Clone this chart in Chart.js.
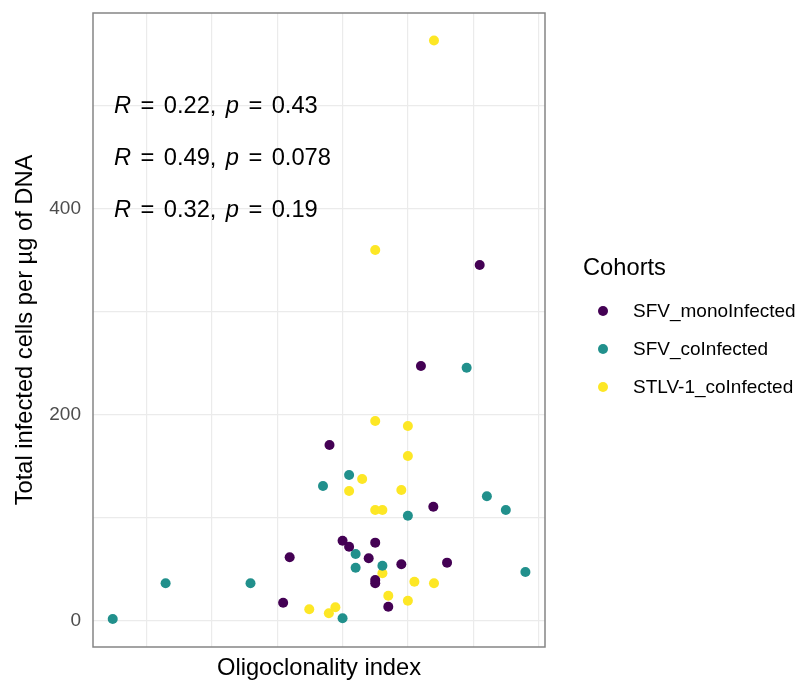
<!DOCTYPE html>
<html>
<head>
<meta charset="utf-8">
<script src="https://cdn.jsdelivr.net/npm/chart.js@4.4.1/dist/chart.umd.min.js"></script>
<style>
  html, body { margin: 0; padding: 0; background: #fff; }
</style>
</head>
<body>
<canvas id="scatter" width="808" height="684"></canvas>
<script>
// cohorts and colours (viridis, 3 levels)
var cohorts = ['SFV_monoInfected', 'SFV_coInfected', 'STLV-1_coInfected'];
var cohortColors = ['#440154', '#21908C', '#FDE725'];

// oligoclonality index / total infected cells per µg of DNA
var monoX = [0.309, 0.319, 0.400, 0.410, 0.450, 0.440, 0.490, 0.560, 0.450, 0.450, 0.470, 0.380, 0.539, 0.520, 0.610];
var monoY = [17.5, 61.5, 77.6, 71.8, 75.7, 60.5, 54.7, 56.3, 39.5, 36.3, 13.6, 170.4, 110.6, 247.0, 345.0];

var coX = [0.048, 0.129, 0.259, 0.400, 0.370, 0.410, 0.420, 0.420, 0.461, 0.500, 0.621, 0.650, 0.680, 0.590];
var coY = [1.6, 36.3, 36.3, 2.3, 130.6, 141.3, 64.7, 51.4, 53.3, 101.8, 120.7, 107.4, 47.2, 245.4];

var stlvX = [0.349, 0.379, 0.389, 0.450, 0.500, 0.500, 0.430, 0.410, 0.490, 0.450, 0.461, 0.461, 0.510, 0.540, 0.470, 0.500, 0.450, 0.540];
var stlvY = [11.1, 7.2, 13.0, 193.7, 188.8, 159.7, 137.4, 125.8, 126.8, 107.4, 107.4, 46.0, 37.8, 36.3, 24.2, 19.4, 359.6, 562.8];

// correlation labels (one per cohort)
var corR = ['0.22', '0.49', '0.32'];
var corP = ['0.43', '0.078', '0.19'];
var corLabelY = [500, 450, 400];
var corLabelX = 0.05;

var yTicks = [0, 200, 400];

var FONT = '"Liberation Sans", Arial, Helvetica, sans-serif';

function points(xs, ys) {
    return xs.map(function (x, i) { return {x: x, y: ys[i]}; });
}

var seriesX = [monoX, coX, stlvX];
var seriesY = [monoY, coY, stlvY];
var datasets = cohorts.map(function (name, i) {
    return {
        label: name,
        data: points(seriesX[i], seriesY[i]),
        backgroundColor: cohortColors[i],
        borderWidth: 0,
        pointRadius: 5,
        pointHoverRadius: 5
    };
});

// grey frame around the panel
var panelBorder = {
    id: 'panelBorder',
    afterDatasetsDraw: function (chart) {
        var a = chart.chartArea, ctx = chart.ctx;
        ctx.save();
        ctx.strokeStyle = '#858585';
        ctx.lineWidth = 1.5;
        ctx.strokeRect(a.left, a.top, a.right - a.left, a.bottom - a.top);
        ctx.restore();
    }
};

// R / p labels, italic R and p
var corLabels = {
    id: 'corLabels',
    afterDatasetsDraw: function (chart) {
        var ctx = chart.ctx;
        var xs = chart.scales.x, ys = chart.scales.y;
        var size = 23.7, gap = 9.4;
        ctx.save();
        ctx.fillStyle = '#000';
        ctx.textBaseline = 'alphabetic';
        ctx.textAlign = 'left';
        for (var i = 0; i < corR.length; i++) {
            var x = xs.getPixelForValue(corLabelX);
            var y = ys.getPixelForValue(corLabelY[i]) + 8.3;
            var parts = [['R', true], ['=', false], [corR[i] + ',', false], ['p', true], ['=', false], [corP[i], false]];
            parts.forEach(function (p) {
                ctx.font = (p[1] ? 'italic ' : '') + size + 'px ' + FONT;
                ctx.fillText(p[0], x, y);
                x += ctx.measureText(p[0]).width + gap;
            });
        }
        ctx.restore();
    }
};

// legend on the right
var cohortLegend = {
    id: 'cohortLegend',
    afterDraw: function (chart) {
        var ctx = chart.ctx;
        ctx.save();
        ctx.fillStyle = '#000';
        ctx.textAlign = 'left';
        ctx.textBaseline = 'alphabetic';
        ctx.font = '23.7px ' + FONT;
        ctx.fillText('Cohorts', 583, 275);
        ctx.font = '19px ' + FONT;
        ctx.textBaseline = 'middle';
        cohorts.forEach(function (name, i) {
            var y = 311 + i * 38;
            ctx.beginPath();
            ctx.arc(603, y, 5, 0, Math.PI * 2);
            ctx.fillStyle = cohortColors[i];
            ctx.fill();
            ctx.fillStyle = '#000';
            ctx.fillText(name, 633, y + 1);
        });
        ctx.restore();
    }
};

Chart.defaults.font.family = FONT;

new Chart(document.getElementById('scatter').getContext('2d'), {
    type: 'scatter',
    data: {datasets: datasets},
    options: {
        responsive: false,
        animation: false,
        events: [],
        layout: {
            autoPadding: false,
            padding: {top: 13, right: 263, left: 0, bottom: 0}
        },
        scales: {
            x: {
                type: 'linear',
                min: 0.0178,
                max: 0.710,
                ticks: {display: false, stepSize: 0.1, includeBounds: false},
                grid: {color: '#ebebeb', lineWidth: 1.2, drawTicks: false},
                border: {display: false},
                title: {
                    display: true,
                    text: 'Oligoclonality index',
                    color: '#000',
                    font: {size: 23.7},
                    padding: {top: 0, bottom: 1}
                },
                afterFit: function (s) { s.height = 37; s.paddingLeft = 0; s.paddingRight = 0; }
            },
            y: {
                type: 'linear',
                min: -25.5,
                max: 589.4,
                ticks: {
                    stepSize: 100,
                    includeBounds: false,
                    color: '#4d4d4d',
                    font: {size: 19},
                    padding: 12,
                    callback: function (v) { return yTicks.indexOf(v) >= 0 ? String(v) : ''; }
                },
                grid: {color: '#ebebeb', lineWidth: 1.2, drawTicks: false},
                border: {display: false},
                title: {
                    display: true,
                    text: 'Total infected cells per µg of DNA',
                    color: '#000',
                    font: {size: 23.7},
                    padding: {top: 11, bottom: 0}
                },
                afterFit: function (s) { s.width = 93; s.paddingTop = 0; s.paddingBottom = 0; }
            }
        },
        plugins: {
            legend: {display: false},
            tooltip: {enabled: false}
        }
    },
    plugins: [panelBorder, corLabels, cohortLegend]
});
</script>
</body>
</html>
